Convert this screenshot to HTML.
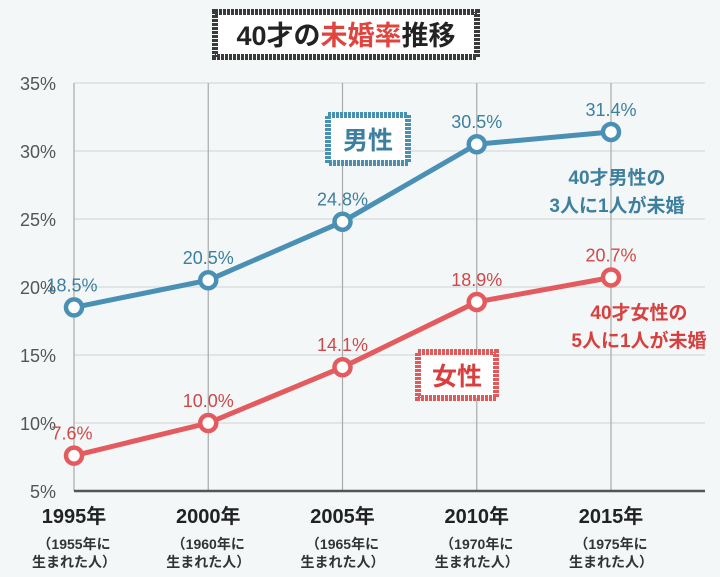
<!DOCTYPE html>
<html><head><meta charset="utf-8">
<style>
html,body{margin:0;padding:0;background:#f3f7f7;}
svg{display:block;font-family:"Liberation Sans","Noto Sans CJK JP",sans-serif;}
</style></head><body>
<svg width="720" height="577" viewBox="0 0 720 577">
<rect width="720" height="577" fill="#f3f7f7"/>
<g>
<rect x="215" y="12" width="262" height="45" fill="#fff" stroke="#3a3a3a" stroke-width="6" stroke-dasharray="3 1"/>
<text x="346" y="45" text-anchor="middle" font-size="27" font-weight="bold" fill="#222">40才の<tspan fill="#e0443f">未婚率</tspan>推移</text>
</g>
<g id="grid"></g>
<g id="series"></g>
<g id="labels"></g>
<g>
<rect x="328" y="115" width="80" height="48" fill="#fff" stroke="#4a90b0" stroke-width="6" stroke-dasharray="3 1"/>
<text x="368" y="149" text-anchor="middle" font-size="25" font-weight="bold" fill="#3d7f9f">男性</text>
</g>
<g>
<rect x="418" y="352" width="78" height="46" fill="#fff" stroke="#e05a5c" stroke-width="6" stroke-dasharray="3 1"/>
<text x="457" y="385" text-anchor="middle" font-size="25" font-weight="bold" fill="#d8403f">女性</text>
</g>
<g font-size="19" font-weight="bold" fill="#3d7f9f" text-anchor="middle">
<text x="617" y="184">40才男性の</text><text x="617" y="212">3人に1人が未婚</text>
</g>
<g font-size="19" font-weight="bold" fill="#d8403f" text-anchor="middle">
<text x="639" y="319">40才女性の</text><text x="639" y="347">5人に1人が未婚</text>
</g>
</svg>
<script>
const categories=["1995年","2000年","2005年","2010年","2015年"];
const births=["（1955年に","（1960年に","（1965年に","（1970年に","（1975年に"];
const maleValues=[18.5,20.5,24.8,30.5,31.4];
const femaleValues=[7.6,10.0,14.1,18.9,20.7];
const yTicks=[5,10,15,20,25,30,35];
const NS="http://www.w3.org/2000/svg";
function xs(i){return 74+i*134.25;}
function ys(v){return 491-(v-5)*13.6;}
function mk(tag,attrs,parent,txt){const e=document.createElementNS(NS,tag);for(const k in attrs)e.setAttribute(k,attrs[k]);if(txt!=null)e.textContent=txt;parent.appendChild(e);return e;}
const grid=document.getElementById('grid'),ser=document.getElementById('series'),lab=document.getElementById('labels');
yTicks.forEach(t=>{
 const l=mk('line',{x1:74,x2:705,y1:ys(t),y2:ys(t),stroke:'#dcdfe0','stroke-width':1.5},grid);
 
 
 const tx=mk('text',{x:56,y:ys(t)+7,'text-anchor':'end','font-size':18,fill:'#555'},grid,t+'%');
 
 
});
categories.forEach((c,i)=>{
 const l=mk('line',{x1:xs(i),x2:xs(i),y1:ys(35),y2:ys(5),stroke:'#aaa','stroke-width':1.2},grid);
 
 
 const t=mk('text',{x:xs(i),y:523,'text-anchor':'middle','font-size':20,'font-weight':'bold',fill:'#222'},grid,c);
 
 
 const s=mk('text',{x:xs(i),y:549,'text-anchor':'middle','font-size':14,'font-weight':'bold',fill:'#333'},grid,births[i]);
 
 
 const s2=mk('text',{x:xs(i),y:567,'text-anchor':'middle','font-size':14,'font-weight':'bold',fill:'#333'},grid,'生まれた人）');
 
 
});
const ax=mk('line',{x1:74,x2:705,y1:ys(5),y2:ys(5),stroke:'#555','stroke-width':2.5},grid);


function series(vals,color,tcolor,name){
 const p=mk('polyline',{points:vals.map((v,i)=>xs(i)+','+ys(v)).join(' '),fill:'none',stroke:color,'stroke-width':5},ser);
 
 
 vals.forEach((v,i)=>{
  const c=mk('circle',{cx:xs(i),cy:ys(v),r:8,fill:'#fff',stroke:color,'stroke-width':4.5},ser);
  
  
  const t=mk('text',{x:xs(i)+(i==0?-2:0),y:ys(v)-16,'text-anchor':'middle','font-size':18,fill:tcolor},lab,v.toFixed(1)+'%');
  
  
 });
}
series(maleValues,'#4a90b5','#3d7f9f','male');
series(femaleValues,'#e35b5e','#d04848','female');
</script>
</body></html>
